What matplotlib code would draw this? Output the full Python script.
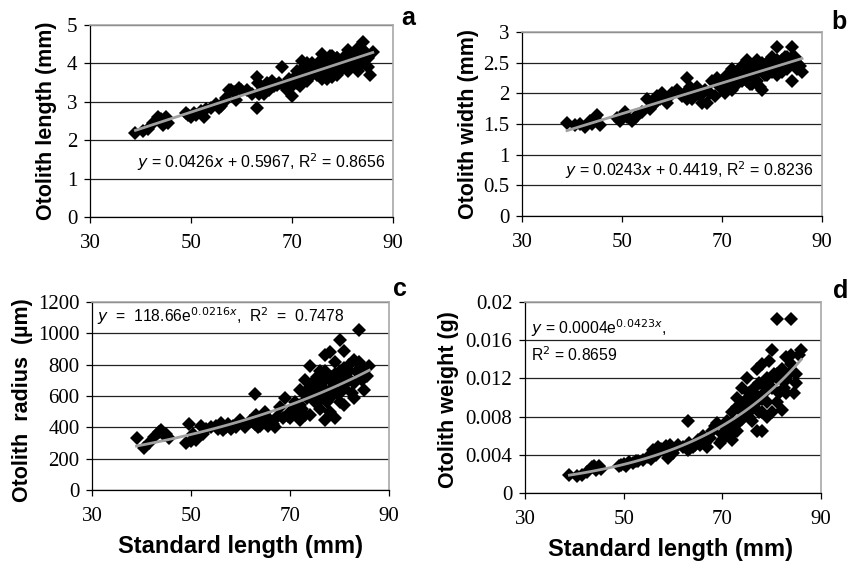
import numpy as np
import matplotlib
matplotlib.use('Agg')
import matplotlib.pyplot as plt

# standard length of each fish (mm), shared by all four panels
sl = [39, 40.5, 41.5, 42.5, 43.5, 44, 44.5, 45, 45.5, 49,
      49.5, 50, 50.5, 51, 52, 52.5, 53, 54, 55, 55.5,
      56, 56.5, 57, 57.5, 58, 58.5, 59, 59.5, 60, 61,
      62, 63, 63, 63.2, 63.5, 64, 64.5, 65, 65.5, 66,
      66.5, 67, 67.5, 68, 68.5, 69, 69.5, 70, 70.5, 71,
      71, 71.5, 72, 72, 72.5, 73, 73, 73.5, 74, 74,
      74.5, 75, 75, 75.5, 75.5, 76, 76, 76, 76.5, 77,
      77, 77, 77.5, 77.5, 78, 78, 78, 78.5, 79, 79,
      79, 79.5, 80, 80, 80, 80.5, 81, 81, 81, 81.5,
      82, 82, 82.5, 83, 83, 83.5, 84, 84, 84.5, 85,
      85, 85.5, 86, 71, 73, 75, 77, 79, 81, 83,
      70, 72, 74, 76, 78, 80, 82, 84, 76.5, 78.5]

# otolith length (mm)
length = [2.2, 2.25, 2.3, 2.45, 2.6, 2.55, 2.4, 2.6, 2.45, 2.7,
          2.65, 2.6, 2.7, 2.65, 2.75, 2.6, 2.8, 2.85, 2.95, 2.85,
          2.9, 3.0, 3.1, 3.3, 3.3, 3.25, 3.05, 3.35, 3.3, 3.3,
          3.2, 3.65, 2.85, 3.5, 3.2, 3.3, 3.2, 3.5, 3.3, 3.55,
          3.4, 3.45, 3.5, 3.9, 3.4, 3.3, 3.6, 3.15, 3.55, 3.7,
          3.5, 3.4, 4.05, 3.6, 3.75, 3.8, 3.55, 3.9, 3.7, 4.0,
          3.85, 3.9, 3.7, 4.05, 3.75, 4.25, 3.6, 3.9, 3.8, 4.1,
          3.6, 3.85, 4.2, 3.95, 4.2, 3.65, 3.9, 4.05, 4.0, 3.7,
          4.15, 3.85, 3.85, 4.1, 3.95, 4.2, 4.35, 3.8, 4.05, 4.2,
          4.2, 4.0, 3.9, 4.4, 3.8, 4.1, 4.55, 4.0, 4.3, 3.9,
          4.15, 3.7, 4.3, 3.8, 4.0, 3.85, 3.95, 4.15, 4.1, 4.25,
          3.4, 3.85, 3.9, 4.0, 3.8, 3.95, 4.05, 4.35, 3.95, 4.1]

# otolith width (mm)
width = [1.52, 1.48, 1.5, 1.45, 1.55, 1.5, 1.6, 1.65, 1.48, 1.6,
         1.55, 1.6, 1.7, 1.62, 1.55, 1.6, 1.65, 1.7, 1.9, 1.75,
         1.8, 1.85, 1.95, 1.9, 2.0, 1.9, 1.85, 1.95, 2.0, 2.05,
         1.95, 2.25, 1.9, 2.05, 2.1, 1.9, 2.0, 2.1, 1.95, 1.85,
         2.05, 1.85, 2.0, 2.2, 1.95, 2.25, 2.1, 2.2, 2.0, 2.3,
         2.1, 2.2, 2.4, 2.05, 2.3, 2.3, 2.15, 2.35, 2.2, 2.45,
         2.3, 2.55, 2.2, 2.4, 2.15, 2.4, 2.15, 2.3, 2.5, 2.55,
         2.2, 2.35, 2.45, 2.1, 2.05, 2.4, 2.5, 2.3, 2.5, 2.3,
         2.4, 2.55, 2.6, 2.35, 2.45, 2.5, 2.75, 2.3, 2.55, 2.4,
         2.55, 2.35, 2.6, 2.6, 2.4, 2.5, 2.75, 2.2, 2.6, 2.5,
         2.4, 2.45, 2.35, 2.25, 2.35, 2.25, 2.35, 2.45, 2.5, 2.45,
         2.1, 2.15, 2.25, 2.3, 2.4, 2.45, 2.5, 2.6, 2.35, 2.4]

# otolith radius (um)
radius = [330, 270, 300, 340, 370, 380, 350, 355, 330, 300,
          420, 310, 360, 320, 410, 355, 390, 400, 410, 390,
          430, 380, 400, 420, 390, 410, 400, 420, 450, 400,
          440, 610, 420, 480, 400, 410, 450, 500, 410, 450,
          420, 400, 470, 530, 460, 590, 470, 460, 500, 520,
          560, 480, 640, 450, 520, 700, 480, 590, 790, 480,
          620, 700, 560, 650, 720, 760, 600, 520, 680, 860,
          450, 640, 720, 560, 880, 700, 500, 600, 820, 460,
          680, 620, 960, 760, 560, 700, 890, 540, 650, 720,
          800, 700, 620, 830, 590, 760, 1020, 820, 700, 640,
          780, 730, 790, 500, 620, 610, 760, 740, 780, 680,
          500, 540, 660, 700, 640, 620, 760, 740, 590, 720]

# otolith weight (g)
weight = [0.0019, 0.0018, 0.0019, 0.0022, 0.0027, 0.0028, 0.0024, 0.0028, 0.0025, 0.0028,
          0.0029, 0.003, 0.0028, 0.0032, 0.0031, 0.0034, 0.0033, 0.0035, 0.0038, 0.0036,
          0.0045, 0.004, 0.0048, 0.0046, 0.0045, 0.0049, 0.0037, 0.005, 0.0042, 0.005,
          0.0048, 0.0075, 0.0045, 0.0052, 0.0047, 0.0048, 0.005, 0.0055, 0.005, 0.006,
          0.0052, 0.0048, 0.0058, 0.0065, 0.007, 0.0073, 0.0052, 0.0055, 0.007, 0.0063,
          0.0068, 0.006, 0.0085, 0.0055, 0.0065, 0.01, 0.0065, 0.0075, 0.011, 0.0085,
          0.0095, 0.012, 0.0092, 0.0105, 0.008, 0.0105, 0.0075, 0.009, 0.011, 0.013,
          0.0065, 0.0095, 0.0115, 0.0085, 0.0135, 0.0085, 0.0065, 0.0105, 0.012, 0.0095,
          0.008, 0.0138, 0.015, 0.011, 0.0085, 0.0125, 0.0182, 0.012, 0.0095, 0.0105,
          0.013, 0.0087, 0.011, 0.0142, 0.0105, 0.0125, 0.0182, 0.0145, 0.0105, 0.0125,
          0.0115, 0.0145, 0.015, 0.0075, 0.009, 0.0098, 0.0102, 0.0112, 0.0125, 0.0118,
          0.0062, 0.0072, 0.0078, 0.0088, 0.0098, 0.012, 0.0118, 0.0135, 0.0095, 0.0112]

x_ticks = [30, 50, 70, 90]

plt.rcParams['font.family'] = 'Liberation Serif'

fig = plt.figure(figsize=(8.62, 5.62), dpi=100)

ax_a = fig.add_axes([0.1044, 0.6139, 0.3515, 0.3416])
ax_b = fig.add_axes([0.6056, 0.6157, 0.3480, 0.3274])
ax_c = fig.add_axes([0.1067, 0.1281, 0.3446, 0.3345])
ax_d = fig.add_axes([0.6090, 0.1228, 0.3434, 0.3398])

sans = 'Liberation Sans'
x = np.array(sl)
xfit = np.linspace(min(sl), max(sl), 100)


def style(ax, yticks, ylabel, labx, laby=0.5):
    ax.set_xlim(30, 90)
    ax.set_ylim(yticks[0], yticks[-1])
    ax.set_xticks(x_ticks)
    ax.set_yticks(yticks)
    ax.grid(axis='y', color='#222222', linewidth=0.9)
    ax.set_axisbelow(True)
    for s in ['top', 'right']:
        ax.spines[s].set_color('#a8a8a8')
        ax.spines[s].set_linewidth(1.2)
    for s in ['left', 'bottom']:
        ax.spines[s].set_color('black')
        ax.spines[s].set_linewidth(0.9)
    ax.tick_params(direction='out', length=4, width=0.9, labelsize=15)
    ax.tick_params(axis='x', pad=8)
    ax.tick_params(axis='y', pad=5)
    ax.set_ylabel(ylabel, fontsize=15.5, fontweight='bold', family=sans)
    ax.yaxis.set_label_coords(labx, laby)


def scatter(ax, y):
    ax.plot(sl, y, linestyle='none', marker='D', markersize=7.5,
            color='black', markeredgewidth=0, zorder=3)


# a: linear fit
scatter(ax_a, length)
k, b = np.polyfit(x, np.array(length), 1)
ax_a.plot(xfit, k * xfit + b, color='#a0a0a0', linewidth=2, zorder=4)
style(ax_a, [0, 1, 2, 3, 4, 5], 'Otolith length (mm)', -0.109)
ax_a.text(88.5, 1.43, '$y$ = 0.0426$x$ + 0.5967, R$^2$ = 0.8656',
          ha='right', va='center', fontsize=11.4, family=sans)

# b: linear fit
scatter(ax_b, width)
k, b = np.polyfit(x, np.array(width), 1)
ax_b.plot(xfit, k * xfit + b, color='#a0a0a0', linewidth=2, zorder=4)
style(ax_b, [0, 0.5, 1, 1.5, 2, 2.5, 3], 'Otolith width (mm)', -0.143)
ax_b.set_yticklabels(['0', '0.5', '1', '1.5', '2', '2.5', '3'])
ax_b.text(88.2, 0.74, '$y$ = 0.0243$x$ + 0.4419, R$^2$ = 0.8236',
          ha='right', va='center', fontsize=11.4, family=sans)

# c: exponential fit
scatter(ax_c, radius)
k, b = np.polyfit(x, np.log(radius), 1)
ax_c.plot(xfit, np.exp(b) * np.exp(k * xfit), color='#a0a0a0', linewidth=2, zorder=4)
style(ax_c, [0, 200, 400, 600, 800, 1000, 1200], 'Otolith  radius  (µm)', -0.199, 0.48)
ax_c.text(31, 1110, '$y$  =  118.66e$^{0.0216x}$,  R$^2$  =  0.7478',
          ha='left', va='center', fontsize=11.3, family=sans)
ax_c.set_xlabel('Standard length (mm)', fontsize=17, fontweight='bold', family=sans)
ax_c.xaxis.set_label_coords(0.5, -0.24)

# d: exponential fit
scatter(ax_d, weight)
k, b = np.polyfit(x, np.log(weight), 1)
ax_d.plot(xfit, np.exp(b) * np.exp(k * xfit), color='#a0a0a0', linewidth=2, zorder=4)
style(ax_d, [0, 0.004, 0.008, 0.012, 0.016, 0.02], 'Otolith weight (g)', -0.223, 0.49)
ax_d.set_yticklabels(['0', '0.004', '0.008', '0.012', '0.016', '0.02'])
ax_d.text(31.2, 0.0173, '$y$ = 0.0004e$^{0.0423x}$,',
          ha='left', va='center', fontsize=11.3, family=sans)
ax_d.text(31.2, 0.0145, 'R$^2$ = 0.8659',
          ha='left', va='center', fontsize=11.3, family=sans)
ax_d.set_xlabel('Standard length (mm)', fontsize=17, fontweight='bold', family=sans)
ax_d.xaxis.set_label_coords(0.49, -0.235)

# panel letters
for lx, ly, t in [(408, 18, 'a'), (839, 22, 'b'), (400, 289, 'c'), (841, 291, 'd')]:
    fig.text(lx / 862, 1 - ly / 562, t, ha='center', va='center',
             fontsize=18, fontweight='bold', family=sans)

fig.savefig('out.png', dpi=100)
